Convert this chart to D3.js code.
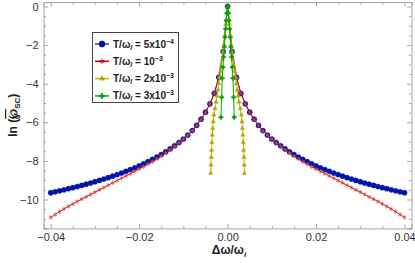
<!DOCTYPE html>
<html lang="en">
<head>
<meta charset="UTF-8">
<title>ln P_SC vs detuning</title>
<script src="https://d3js.org/d3.v7.min.js"></script>
<style>
    body { margin: 0; background: #fff; }
    svg { display: block; font-family: 'Liberation Sans', Arial, sans-serif; }
    .tick text { font-size: 11px; fill: #333; }
    .frame path, .frame line { stroke: #a6a6a6; }
    .lbl { font-weight: bold; fill: #222; }
    .leg text { font-size: 10px; font-weight: bold; fill: #222; }
</style>
</head>
<body>
<svg width="415" height="263"></svg>
<script>
// x grid for the two wide series (step 0.001)
const wideX = [-0.040,-0.039,-0.038,-0.037,-0.036,-0.035,-0.034,-0.033,-0.032,-0.031,-0.030,-0.029,-0.028,-0.027,-0.026,-0.025,-0.024,-0.023,-0.022,-0.021,-0.020,-0.019,-0.018,-0.017,-0.016,-0.015,-0.014,-0.013,-0.012,-0.011,-0.010,-0.009,-0.008,-0.007,-0.006,-0.005,-0.004,-0.003,-0.002,-0.001,0,0.001,0.002,0.003,0.004,0.005,0.006,0.007,0.008,0.009,0.010,0.011,0.012,0.013,0.014,0.015,0.016,0.017,0.018,0.019,0.020,0.021,0.022,0.023,0.024,0.025,0.026,0.027,0.028,0.029,0.030,0.031,0.032,0.033,0.034,0.035,0.036,0.037,0.038,0.039,0.040];

const blueY = [-9.65,-9.60,-9.55,-9.50,-9.44,-9.39,-9.33,-9.27,-9.21,-9.15,-9.08,-9.01,-8.94,-8.87,-8.79,-8.71,-8.63,-8.54,-8.45,-8.36,-8.26,-8.15,-8.04,-7.92,-7.80,-7.67,-7.53,-7.38,-7.22,-7.05,-6.87,-6.66,-6.43,-6.16,-5.84,-5.48,-5.04,-4.50,-3.67,-2.34,0,-2.34,-3.67,-4.50,-5.04,-5.48,-5.84,-6.16,-6.43,-6.66,-6.87,-7.05,-7.22,-7.38,-7.53,-7.67,-7.80,-7.92,-8.04,-8.15,-8.26,-8.36,-8.45,-8.54,-8.63,-8.71,-8.79,-8.87,-8.94,-9.01,-9.08,-9.15,-9.21,-9.27,-9.33,-9.39,-9.44,-9.50,-9.55,-9.60,-9.65];

const redY = [-10.93,-10.78,-10.63,-10.49,-10.36,-10.23,-10.10,-9.98,-9.86,-9.74,-9.62,-9.50,-9.38,-9.26,-9.14,-9.02,-8.90,-8.78,-8.66,-8.54,-8.42,-8.30,-8.17,-8.04,-7.90,-7.75,-7.59,-7.42,-7.25,-7.07,-6.88,-6.67,-6.44,-6.17,-5.85,-5.49,-5.04,-4.50,-3.67,-2.34,0,-2.34,-3.67,-4.50,-5.04,-5.49,-5.85,-6.17,-6.44,-6.67,-6.88,-7.07,-7.25,-7.42,-7.59,-7.75,-7.90,-8.04,-8.17,-8.30,-8.42,-8.54,-8.66,-8.78,-8.90,-9.02,-9.14,-9.26,-9.38,-9.50,-9.62,-9.74,-9.86,-9.98,-10.10,-10.23,-10.36,-10.49,-10.63,-10.78,-10.93];

const yellowX = [-0.0038,-0.00376,-0.0037,-0.00363,-0.00355,-0.00346,-0.00336,-0.00325,-0.0031,-0.00285,-0.0026,-0.0024,-0.0022,-0.0020,-0.0018,-0.0016,-0.0014,-0.0012,-0.0010,-0.0008,-0.0006,-0.0004,-0.0002,0,0.0002,0.0004,0.0006,0.0008,0.0010,0.0012,0.0014,0.0016,0.0018,0.0020,0.0022,0.0024,0.0026,0.00285,0.0031,0.00325,0.00336,0.00346,0.00355,0.00363,0.0037,0.00376,0.0038];
const yellowY = [-8.64,-8.21,-7.81,-7.44,-7.04,-6.66,-6.31,-5.97,-5.62,-5.28,-4.95,-4.63,-4.32,-4.00,-3.68,-3.36,-3.06,-2.74,-2.37,-1.96,-1.48,-0.92,-0.32,0,-0.32,-0.92,-1.48,-1.96,-2.37,-2.74,-3.06,-3.36,-3.68,-4.00,-4.32,-4.63,-4.95,-5.28,-5.62,-5.97,-6.31,-6.66,-7.04,-7.44,-7.81,-8.21,-8.64];

const greenX = [-0.0015,-0.00135,-0.0012,-0.00105,-0.0009,-0.00075,-0.0006,-0.00045,-0.0003,-0.00015,0,0.00015,0.0003,0.00045,0.0006,0.00075,0.0009,0.00105,0.0012,0.00135,0.0015];
const greenY = [-5.74,-4.70,-3.72,-3.15,-2.62,-2.10,-1.60,-1.15,-0.72,-0.35,0,-0.35,-0.72,-1.15,-1.60,-2.10,-2.62,-3.15,-3.72,-4.70,-5.74];

const xTicks = [-0.04, -0.02, 0, 0.02, 0.04];
const xTickLabels = ["\u22120.04", "\u22120.02", "0.00", "0.02", "0.04"];
const yTicks = [0, -2, -4, -6, -8, -10];
const yTickLabels = ["0", "\u22122", "\u22124", "\u22126", "\u22128", "\u221210"];

const legendMain = ["5x10", "10", "2x10", "3x10"];
const legendExp = ["\u22124", "\u22123", "\u22123", "\u22123"];

const series = [
    {x: wideX, y: blueY, line: "#2b3fd6", fill: "#0014a8", sym: d3.symbolCircle, size: 22, mode: "fill"},
    {x: wideX, y: redY, line: "#b80000", fill: "#c81010", sym: d3.symbolAsterisk, size: 13, mode: "stroke"},
    {x: yellowX, y: yellowY, line: "#c2b800", fill: "#b3a800", sym: d3.symbolTriangle, size: 9, mode: "fill"},
    {x: greenX, y: greenY, line: "#00b400", fill: "#00a000", sym: d3.symbolCross, size: 11, mode: "fill"}
];

const svg = d3.select("svg");
const x = d3.scaleLinear().domain([-0.04, 0.04]).range([50.7, 404.5]);
const y = d3.scaleLinear().domain([0, -10]).range([6.5, 199.5]);
const xd = [-0.0416, 0.0416], yd = [-11.5, 0.23];
const L = x(xd[0]), R = x(xd[1]), T = y(yd[1]), B = y(yd[0]);

const xMinor = d3.range(-0.04, 0.0401, 0.005).filter(v => Math.abs(Math.round(v * 1000) % 20) !== 0);
const yMinor = d3.range(-11.5, 0.01, 0.5).filter(v => Math.round(v * 2) % 4 !== 0);

function frame(axis, tr, major, minor, labels) {
    const g = svg.append("g").attr("class", "frame").attr("transform", tr);
    g.call(axis.tickValues(major).tickSize(-4.5).tickPadding(5)
        .tickFormat((d, i) => labels ? labels[i] : ""));
    g.selectAll(".tick line").attr("stroke", "#a6a6a6");
    g.append("g").call(axis.tickValues(minor).tickSize(-2.5).tickFormat(""))
        .call(s => s.select(".domain").remove());
    return g;
}
const xs = x.copy().domain(xd).range([L, R]);
const ys = y.copy().domain(yd).range([B, T]);
frame(d3.axisBottom(xs), `translate(0,${B})`, xTicks, xMinor, xTickLabels);
frame(d3.axisTop(xs), `translate(0,${T})`, xTicks, xMinor, null);
frame(d3.axisLeft(ys), `translate(${L},0)`, yTicks, yMinor, yTickLabels);
frame(d3.axisRight(ys), `translate(${R},0)`, yTicks, yMinor, null);
svg.selectAll(".frame .tick text").attr("fill", "#333");

const line = d3.line().x(d => x(d[0])).y(d => y(d[1]));
series.forEach(s => {
    const pts = s.x.map((v, i) => [v, s.y[i]]);
    svg.append("path").attr("d", line(pts)).attr("fill", "none")
        .attr("stroke", s.line).attr("stroke-width", 1);
    svg.append("g").selectAll("path").data(pts).join("path")
        .attr("transform", d => `translate(${x(d[0])},${y(d[1])})`)
        .attr("d", d3.symbol(s.sym, s.size))
        .attr("fill", s.mode === "fill" ? s.fill : "none")
        .attr("stroke", s.mode === "fill" ? s.fill : "#d84848")
        .attr("stroke-width", s.mode === "fill" ? 0.3 : 0.8);
});

// legend
const leg = svg.append("g").attr("class", "leg");
leg.append("rect").attr("x", 92.5).attr("y", 32.5).attr("width", 86).attr("height", 70)
    .attr("fill", "#fff").attr("stroke", "#444").attr("stroke-width", 1);
series.forEach((s, i) => {
    const yy = 44 + i * 17.3;
    leg.append("line").attr("x1", 95).attr("x2", 109).attr("y1", yy).attr("y2", yy)
        .attr("stroke", s.line).attr("stroke-width", 1.5);
    leg.append("path").attr("transform", `translate(102,${yy})`)
        .attr("d", d3.symbol(s.sym, s.size * 1.4))
        .attr("fill", s.mode === "fill" ? s.fill : "none")
        .attr("stroke", s.fill).attr("stroke-width", s.mode === "fill" ? 0.3 : 1);
    const t = leg.append("text").attr("x", 113).attr("y", yy + 3.5);
    t.append("tspan").text("T/\u03c9");
    t.append("tspan").text("l").attr("font-style", "italic").attr("font-size", 7).attr("dy", 2);
    t.append("tspan").text(" = " + legendMain[i]).attr("dy", -2);
    t.append("tspan").text(legendExp[i]).attr("font-size", 7).attr("dy", -4);
});

// axis labels
const xl = svg.append("text").attr("class", "lbl").attr("x", 229).attr("y", 254)
    .attr("text-anchor", "middle").attr("font-size", 12);
xl.append("tspan").text("\u0394\u03c9/\u03c9");
xl.append("tspan").text("i").attr("font-style", "italic").attr("font-size", 8).attr("dy", 2.5);

const yl = svg.append("text").attr("class", "lbl")
    .attr("transform", `translate(17,${(T + B) / 2}) rotate(-90)`)
    .attr("text-anchor", "middle").attr("font-size", 12);
yl.append("tspan").text("ln (");
yl.append("tspan").text("\u2118").style("text-decoration", "overline");
yl.append("tspan").text("SC").attr("font-size", 8).attr("dy", 2.5);
yl.append("tspan").text(")").attr("dy", -2.5);
</script>
</body>
</html>
